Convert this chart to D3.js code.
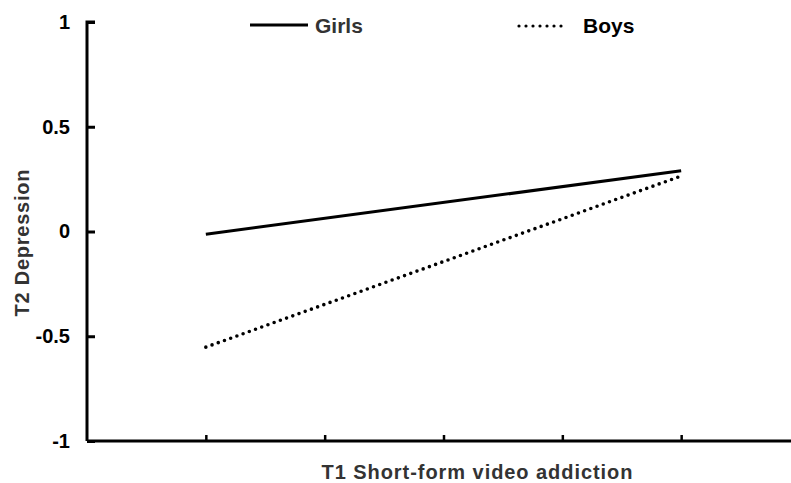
<!DOCTYPE html>
<html>
<head>
<meta charset="utf-8">
<script src="https://cdn.jsdelivr.net/npm/d3@7"></script>
<style>
  body { margin: 0; background: #fff; }
  text { font-family: "Liberation Sans", Arial, sans-serif; font-weight: bold; }
</style>
</head>
<body>
<script>
// data
const xPositions = [1, 5]            // low / high short-form video addiction
const girls = [-0.013, 0.29]
const boys = [-0.552, 0.265]
const yTicks = [-1, -0.5, 0, 0.5, 1]
const xTicks = [1, 2, 3, 4, 5]

const width = 791, height = 483

const svg = d3.select('body').append('svg')
    .attr('width', width)
    .attr('height', height)

// scales
const xScale = d3.scaleLinear().domain([0, 6]).range([87, 800])
const yScale = d3.scaleLinear().domain([-1, 1]).range([441, 22])

// y axis
const yAxis = svg.append('g')
    .attr('transform', 'translate(87,0)')
    .call(d3.axisRight(yScale).tickValues(yTicks).tickSize(8).tickFormat(d => d))
yAxis.select('.domain').attr('d', 'M8,22H0V441').attr('stroke-width', 3)
yAxis.selectAll('.tick line').attr('stroke-width', 3)
yAxis.selectAll('.tick text')
    .attr('x', -17)
    .attr('text-anchor', 'end')
    .attr('font-size', 20)
    .attr('fill', '#000')

// x axis, ticks point up
const xAxis = svg.append('g')
    .attr('transform', 'translate(0,441)')
    .call(d3.axisTop(xScale).tickValues(xTicks).tickSize(6).tickFormat(''))
xAxis.select('.domain').attr('d', 'M87,0H800').attr('stroke-width', 3)
xAxis.selectAll('.tick line').attr('stroke-width', 2.5)

// lines
const line = d3.line()
    .x((d, i) => xScale(xPositions[i]))
    .y(d => yScale(d))

svg.append('path')
    .datum(girls)
    .attr('d', line)
    .attr('fill', 'none')
    .attr('stroke', '#000')
    .attr('stroke-width', 3)

svg.append('path')
    .datum(boys)
    .attr('d', line)
    .attr('fill', 'none')
    .attr('stroke', '#000')
    .attr('stroke-width', 3.6)
    .attr('stroke-linecap', 'round')
    .attr('stroke-dasharray', '0,6.6')

// axis titles
svg.append('text')
    .attr('x', 477)
    .attr('y', 479)
    .attr('text-anchor', 'middle')
    .attr('font-size', 20)
    .attr('textLength', 311)
    .attr('fill', '#333')
    .text('T1 Short-form video addiction')

svg.append('text')
    .attr('transform', 'translate(29,243) rotate(-90)')
    .attr('text-anchor', 'middle')
    .attr('font-size', 20)
    .attr('textLength', 147)
    .attr('fill', '#333')
    .text('T2 Depression')

// legend
const legend = svg.append('g')
legend.append('line')
    .attr('x1', 250).attr('x2', 308).attr('y1', 25).attr('y2', 25)
    .attr('stroke', '#000').attr('stroke-width', 3)
legend.append('text')
    .attr('x', 315).attr('y', 33)
    .attr('font-size', 21)
    .attr('fill', '#333')
    .text('Girls')
legend.append('line')
    .attr('x1', 519).attr('x2', 568).attr('y1', 26).attr('y2', 26)
    .attr('stroke', '#000').attr('stroke-width', 3.2)
    .attr('stroke-linecap', 'round')
    .attr('stroke-dasharray', '0,7')
legend.append('text')
    .attr('x', 583).attr('y', 33)
    .attr('font-size', 21)
    .attr('fill', '#000')
    .text('Boys')
</script>
</body>
</html>
